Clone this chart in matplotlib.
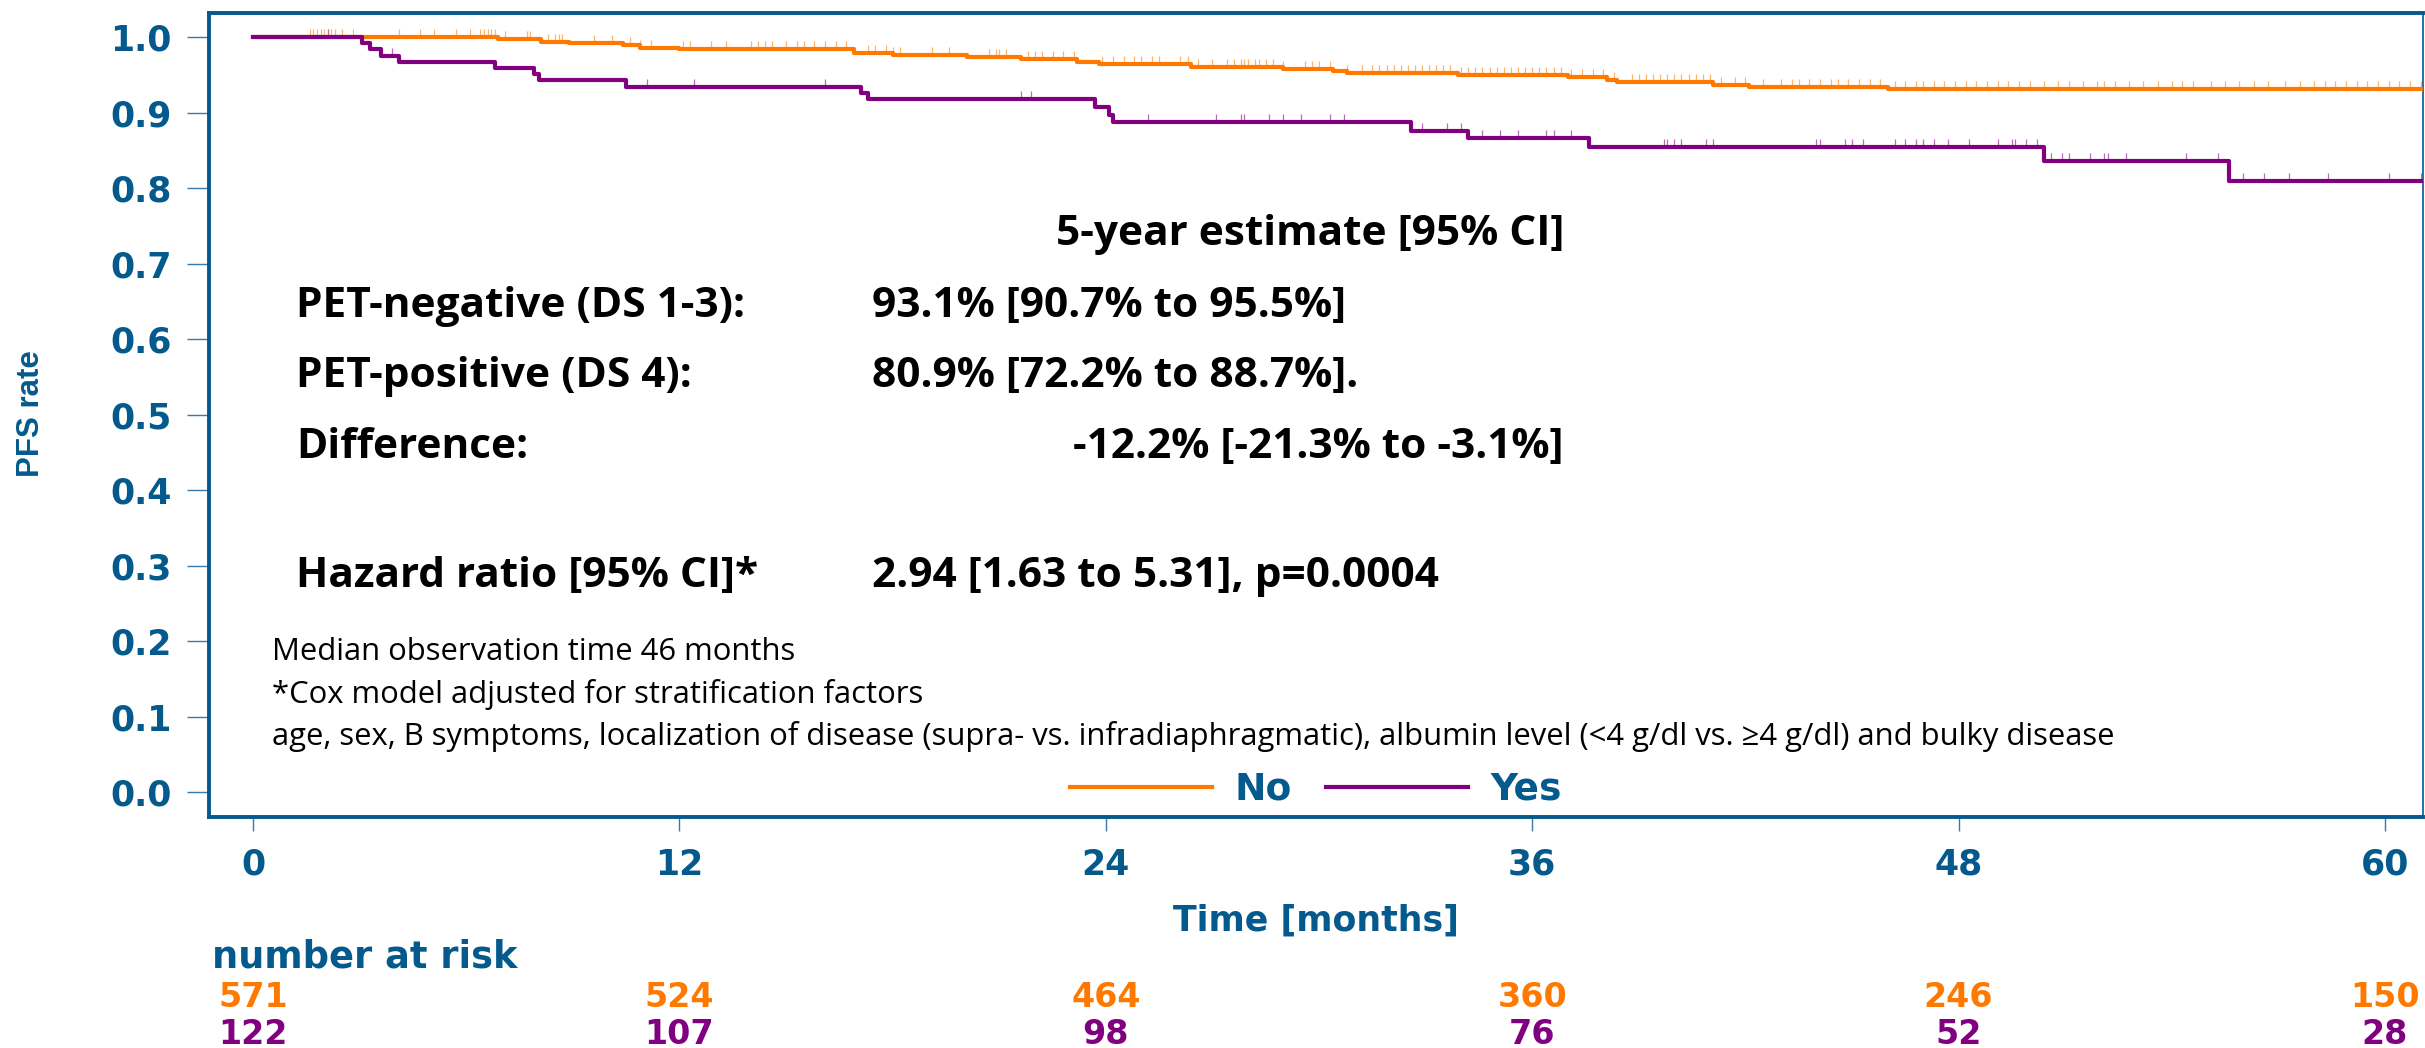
import numpy as np
import matplotlib
matplotlib.use("Agg")
import matplotlib.pyplot as plt
from matplotlib.path import Path
from matplotlib.transforms import blended_transform_factory

# Kaplan-Meier steps (months, PFS rate)
no_t = [0, 6.9, 8.1, 8.9, 10.4, 10.9, 12.0, 16.9, 18.0, 20.1, 21.6, 23.2, 23.8,
        26.4, 29.0, 30.4, 30.8, 33.9, 37.0, 38.1, 38.4, 41.1, 42.1, 46.0]
no_s = [1.0, 0.997, 0.994, 0.992, 0.989, 0.986, 0.984, 0.979, 0.977, 0.974, 0.971,
        0.967, 0.964, 0.961, 0.958, 0.955, 0.953, 0.950, 0.947, 0.943, 0.940,
        0.937, 0.934, 0.931]
yes_t = [0, 3.06, 3.3, 3.6, 4.1, 6.8, 7.9, 8.05, 10.5, 17.1, 17.3, 23.7, 24.1,
         24.2, 32.6, 34.2, 37.6, 50.4, 55.6]
yes_s = [1.0, 0.992, 0.984, 0.975, 0.967, 0.959, 0.951, 0.943, 0.934, 0.926,
         0.918, 0.907, 0.897, 0.888, 0.876, 0.866, 0.854, 0.836, 0.809]

# censoring marks (months)
no_cens = [1.6, 1.7, 1.8, 1.9, 2.0, 2.1, 2.2, 2.3, 2.5, 2.8,
           4.1, 4.7, 5.1, 5.7, 6.1, 6.4, 6.5, 6.6, 6.7, 6.8, 7.1, 7.7, 7.8, 8.3,
           8.5, 8.6, 8.7, 9.6, 10.1, 10.6, 10.9, 11.2, 12.1, 12.3,
           12.9, 13.3, 14.0, 14.2, 14.4, 14.6, 15.0, 15.3, 15.5, 15.8, 16.1, 16.4,
           16.7, 17.3, 17.5, 17.8, 18.0, 18.2, 19.1, 19.6, 20.7, 20.9, 21.0, 21.2,
           21.8, 22.0, 22.2, 22.5, 22.8, 23.1, 23.9, 24.2, 24.5, 24.8, 25.0, 25.3,
           25.5, 26.1, 26.3, 26.6, 27.0, 27.4, 27.6, 27.8, 27.9, 28.0, 28.2, 28.3,
           28.5, 28.7, 29.0, 29.6, 29.8, 30.0, 30.3, 30.8, 31.2, 31.5, 31.7, 31.9,
           32.1, 32.3, 32.5, 32.7, 32.9, 33.1, 33.3, 33.5, 33.7, 34.0, 34.2, 34.4,
           34.6, 34.8, 35.0, 35.2, 35.4, 35.6, 35.8, 36.0, 36.2, 36.4, 36.6, 36.8,
           37.1, 37.4, 37.7, 38.0, 38.3, 38.8, 39.0, 39.2, 39.4, 39.6, 39.8, 40.0,
           40.2, 40.4, 40.6, 40.8, 41.0, 41.3, 41.7, 42.0, 42.5, 43.0, 43.3, 43.5,
           43.8, 44.1, 44.4, 44.6, 44.9, 45.2, 45.5, 45.8, 46.2, 46.5, 46.8, 47.0,
           47.3, 47.6, 47.9, 48.2, 48.5, 48.8, 49.1, 49.4, 49.7, 50.0, 50.4, 50.8,
           51.1, 51.5, 51.9, 52.1, 52.4, 52.8, 53.2, 53.6, 54.0, 54.3, 54.6, 55.1,
           55.5, 55.9, 56.3, 56.7, 57.2, 57.6, 58.0, 58.3, 58.6, 58.9, 59.2, 59.5,
           59.8, 60.1, 60.4, 60.7, 61.0]
yes_cens = [2.1, 3.9, 11.1, 12.4, 16.1, 21.6, 21.9, 25.2, 27.1, 27.8, 27.9, 28.6,
            29.0, 29.5, 30.3, 30.7, 32.9, 33.6, 34.0, 34.6, 35.1, 35.6, 36.4, 36.6,
            37.1, 39.7, 39.8, 40.0, 40.2, 40.9, 41.1, 44.0, 44.1, 44.8, 45.0, 45.3,
            46.2, 46.5, 46.8, 47.0, 47.3, 47.7, 48.3, 49.1, 49.5, 49.6, 49.9, 50.2,
            50.6, 50.9, 51.1, 51.7, 52.1, 52.2, 52.7, 54.4, 55.3, 56.0, 56.6, 57.3,
            58.4, 60.1, 61.0]

risk_times = [0, 12, 24, 36, 48, 60]
risk_no = [571, 524, 464, 360, 246, 150]
risk_yes = [122, 107, 98, 76, 52, 28]

BLUE = "#045a8d"
ORANGE = "#ff7800"
PURPLE = "#800080"
W, H = 2425, 1048

fig = plt.figure(figsize=(W / 100, H / 100), dpi=100)
ax = fig.add_axes([209 / W, 1 - 817 / H, (2423 - 209) / W, (817 - 13) / H])

t_end = 61.1
tick_marker = Path([(0, 0), (0, 1)], [Path.MOVETO, Path.LINETO])


def km_at(times, surv, x):
    idx = np.searchsorted(times, x, side="right") - 1
    return np.array(surv)[idx]


for t, s, cens, col, light, lab in [
        (no_t, no_s, no_cens, ORANGE, "#ffb36b", "No"),
        (yes_t, yes_s, yes_cens, PURPLE, "#b86bb8", "Yes")]:
    ax.step(np.append(t, t_end), np.append(s, s[-1]), where="post",
            color=col, lw=3, label=lab, zorder=3)
    ax.plot(cens, km_at(t, s, cens), ls="none", marker=tick_marker,
            markersize=12, markeredgewidth=0.9, color=light, zorder=2)

ax.set_xlim(-1.24, 61.07)
ax.set_ylim(-0.033, 1.032)
ax.set_xticks(risk_times)
ax.set_yticks(np.arange(0, 1.01, 0.1))
ax.set_yticklabels([f"{v:.1f}" for v in np.arange(0, 1.01, 0.1)])

for side in ["left", "top", "bottom"]:
    ax.spines[side].set_linewidth(2.8)
    ax.spines[side].set_color(BLUE)
ax.spines["right"].set_linewidth(1.2)
ax.spines["right"].set_color(BLUE)

ax.tick_params(axis="y", length=16, width=1, color="#3a7aa8", pad=11,
               labelsize=25, labelcolor=BLUE)
ax.tick_params(axis="x", length=10, width=1, color="#3a7aa8", pad=12,
               labelsize=25, labelcolor=BLUE)
for lbl in ax.get_xticklabels() + ax.get_yticklabels():
    lbl.set_fontweight("bold")

ax.set_xlabel("Time [months]", fontsize=25, fontweight="bold", color=BLUE,
              labelpad=16)
fig.text(31 / W, 1 - 414 / H, "PFS rate", rotation=90, ha="center", va="center",
         family="Liberation Sans", fontsize=22.5, fontweight="bold", color=BLUE)

leg = ax.legend(loc="lower center", bbox_to_anchor=(0.5, 0.0), ncol=2,
                frameon=False, fontsize=27, handlelength=3.8, handletextpad=0.6,
                columnspacing=0.9, borderaxespad=0.1, borderpad=0.15)
for txt in leg.get_texts():
    txt.set_color(BLUE)
    txt.set_fontweight("bold")
for ln in leg.get_lines():
    ln.set_linewidth(3)

# annotation block
bold = dict(family="Open Sans", fontweight="bold", fontsize=30.5, color="black",
            va="baseline")
reg = dict(family="Open Sans", fontsize=22.3, color="black", va="baseline")


def px(x, y):
    return x / W, 1 - y / H


fig.text(*px(1564, 245), "5-year estimate [95% CI]", ha="right", **bold)
fig.text(*px(296, 317), "PET-negative (DS 1-3):", ha="left", **bold)
fig.text(*px(872, 317), "93.1% [90.7% to 95.5%]", ha="left", **bold)
fig.text(*px(296, 387), "PET-positive (DS 4):", ha="left", **bold)
fig.text(*px(872, 387), "80.9% [72.2% to 88.7%].", ha="left", **bold)
fig.text(*px(296, 458), "Difference:", ha="left", **bold)
fig.text(*px(1564, 458), "-12.2% [-21.3% to -3.1%]", ha="right", **bold)
fig.text(*px(296, 587), "Hazard ratio [95% CI]*", ha="left", **bold)
fig.text(*px(872, 587), "2.94 [1.63 to 5.31], p=0.0004", ha="left", **bold)
fig.text(*px(272, 660), "Median observation time 46 months", ha="left", **reg)
fig.text(*px(272, 703), "*Cox model adjusted for stratification factors",
         ha="left", **reg)
fig.text(*px(272, 745), "age, sex, B symptoms, localization of disease (supra- vs. "
         "infradiaphragmatic), albumin level (<4 g/dl vs. \u22654 g/dl) and bulky disease",
         ha="left", **reg)

# number at risk table
fig.text(212 / W, 1 - 967 / H, "number at risk", ha="left", va="baseline",
         fontsize=26.5, fontweight="bold", color=BLUE)
trans = blended_transform_factory(ax.transData, fig.transFigure)
for x, a, b in zip(risk_times, risk_no, risk_yes):
    fig.text(x, 1 - 1007 / H, str(a), transform=trans, ha="center",
             va="baseline", fontsize=24, fontweight="bold", color=ORANGE)
    fig.text(x, 1 - 1044 / H, str(b), transform=trans, ha="center",
             va="baseline", fontsize=24, fontweight="bold", color=PURPLE)

fig.savefig("out.png", dpi=100)
